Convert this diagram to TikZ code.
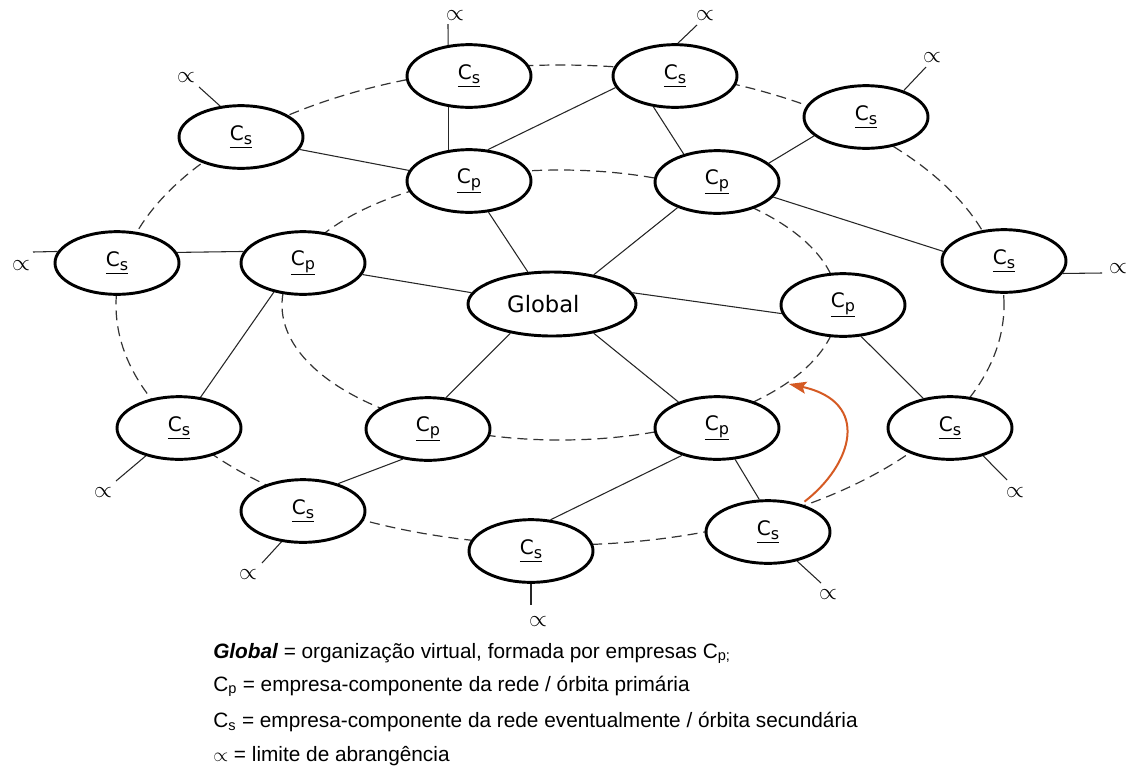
\documentclass[tikz,border=0pt]{standalone}
\usepackage{fontspec}
\setmainfont{DejaVu Sans}
\newfontfamily\legendfont{Liberation Sans}
\usetikzlibrary{shapes.geometric,arrows.meta}

\definecolor{arrowred}{RGB}{213,90,35}

% underlined company label: C with a lowered index
\newcommand{\complabel}[1]{\fontsize{15}{18}\selectfont\underline{C\raisebox{-3pt}{\fontsize{12}{12}\selectfont #1}}}

\begin{document}
\begin{tikzpicture}[x=0.75pt,y=-0.75pt,
  orb/.style={ellipse, draw=black, line width=2.2pt, fill=white,
              minimum width=93pt, minimum height=47pt, inner sep=0pt},
  glob/.style={orb, minimum width=126pt, minimum height=48pt,
               font=\fontsize{17}{20}\selectfont},
  link/.style={draw=black!85, line width=0.8pt},
  orbit/.style={draw=black!80, line width=0.9pt, dash pattern=on 7.5pt off 4.5pt},
  lead/.style={draw=black!85, line width=0.8pt},
  prop/.style={inner sep=0pt, font=\fontsize{19}{21}\selectfont},
  legend/.style={anchor=base west, inner sep=0pt,
                 font=\legendfont\fontsize{15.6}{18}\selectfont}
]
\path[use as bounding box] (0,0) rectangle (1134,765);

% orbits
\draw[orbit] (560,305) ellipse [x radius=333pt, y radius=180pt];
\draw[orbit] (560,305) ellipse [x radius=208.5pt, y radius=101.25pt];

% centre
\node[glob] (global) at (552,304) {\hspace*{-13pt}Global};

% primary orbit
\node[orb] (cpa) at (469,181) {\complabel{p}};
\node[orb] (cpb) at (717,182) {\complabel{p}};
\node[orb] (cpc) at (303,263) {\complabel{p}};
\node[orb] (cpd) at (843,305) {\complabel{p}};
\node[orb] (cpe) at (428,429) {\complabel{p}};
\node[orb] (cpf) at (717,428) {\complabel{p}};

% secondary orbit
\node[orb] (cs1)  at (469,76)   {\complabel{s}};
\node[orb] (cs2)  at (675,76)   {\complabel{s}};
\node[orb] (cs3)  at (866,117)  {\complabel{s}};
\node[orb] (cs4)  at (1004,261) {\complabel{s}};
\node[orb] (cs5)  at (950,428)  {\complabel{s}};
\node[orb] (cs6)  at (768,532)  {\complabel{s}};
\node[orb] (cs7)  at (531,551)  {\complabel{s}};
\node[orb] (cs8)  at (303,511)  {\complabel{s}};
\node[orb] (cs9)  at (179,428)  {\complabel{s}};
\node[orb] (cs10) at (117,263)  {\complabel{s}};
\node[orb] (cs11) at (241,137)  {\complabel{s}};

% links
\draw[link] (cs1.-124) -- (cpa.124);
\draw[link] (cs2.191)  -- (cpa.59);
\draw[link] (cs2.235)  -- (cpb.140);
\draw[link] (cs11.-12) -- (cpa.170);
\draw[link] (cs3.200)  -- (cpb.20);
\draw[link] (cpb.-15)  -- (cs4.171);
\draw[link] (cs10.10.5) -- (cpc.169.5);
\draw[link] (cpc.-11)  -- (global.172);
\draw[link] (cpa.-58)  -- (global.127);
\draw[link] (cpb.213)  -- (global.35);
\draw[link] (global.8) -- (cpd.188);
\draw[link] (cpc.225)  -- (cs9.55);
\draw[link] (global.215) -- (cpe.60);
\draw[link] (global.-35) -- (cpf.146);
\draw[link] (cpd.-60)  -- (cs5.132);
\draw[link] (cpe.230)  -- (cs8.38);
\draw[link] (cpf.218)  -- (cs7.58);
\draw[link] (cpf.-60)  -- (cs6.105);

% range limits
\coordinate (e1) at (448,24);   \node[prop] (p1) at (455,16) {$\propto$};
\coordinate (e2) at (697,25);   \node[prop] (p2) at (705,16) {$\propto$};
\coordinate (e3) at (926,67);   \node[prop] (p3) at (932,58) {$\propto$};
\coordinate (e4) at (1102,273); \node[prop] (p4) at (1118,269) {$\propto$};
\coordinate (e5) at (1007,480); \node[prop] (p5) at (1015,493) {$\propto$};
\coordinate (e6) at (821,583);  \node[prop] (p6) at (828,595) {$\propto$};
\coordinate (e7) at (531,605);  \node[prop] (p7) at (538,622) {$\propto$};
\coordinate (e8) at (262,563);  \node[prop] (p8) at (248,575) {$\propto$};
\coordinate (e9) at (116,481);  \node[prop] (p9) at (103,493) {$\propto$};
\coordinate (e10) at (33,252);  \node[prop] (p10) at (21,266) {$\propto$};
\coordinate (e11) at (199,87);  \node[prop] (p11) at (186,78) {$\propto$};

\draw[lead] (cs1.124)  -- (e1);
\draw[lead] (cs2.85)   -- (e2);
\draw[lead] (cs3.35)   -- (e3);
\draw[lead] (cs4.-12)  -- (e4);
\draw[lead] (cs5.-40)  -- (e5);
\draw[lead] (cs6.-45)  -- (e6);
\draw[lead] (cs7.-90)  -- (e7);
\draw[lead] (cs8.-125) -- (e8);
\draw[lead] (cs9.-140) -- (e9);
\draw[lead] (cs10.169.5) -- (e10);
\draw[lead] (cs11.124) -- (e11);

% migration towards the primary orbit
\coordinate (tip) at (789,384);
\draw[arrowred, line width=1.5pt, -{Stealth[length=13pt,width=9pt,inset=2.5pt]},
      shorten <=3pt]
  (cs6.40) .. controls (852,465) and (872,402) .. (tip);

% legend
\node[legend] (l1) at (213,658) {{\bfseries\itshape Global} = organização virtual, formada por empresas C\textsubscript{p;}};
\node[legend] (l2) at (213,691) {C\textsubscript{p} = empresa-componente da rede / órbita primária};
\node[legend] (l3) at (213,727.5) {C\textsubscript{s} = empresa-componente da rede eventualmente / órbita secundária};
\node[legend] (l4) at (213,761) {$\propto$ = limite de abrangência};
\end{tikzpicture}
\end{document}
